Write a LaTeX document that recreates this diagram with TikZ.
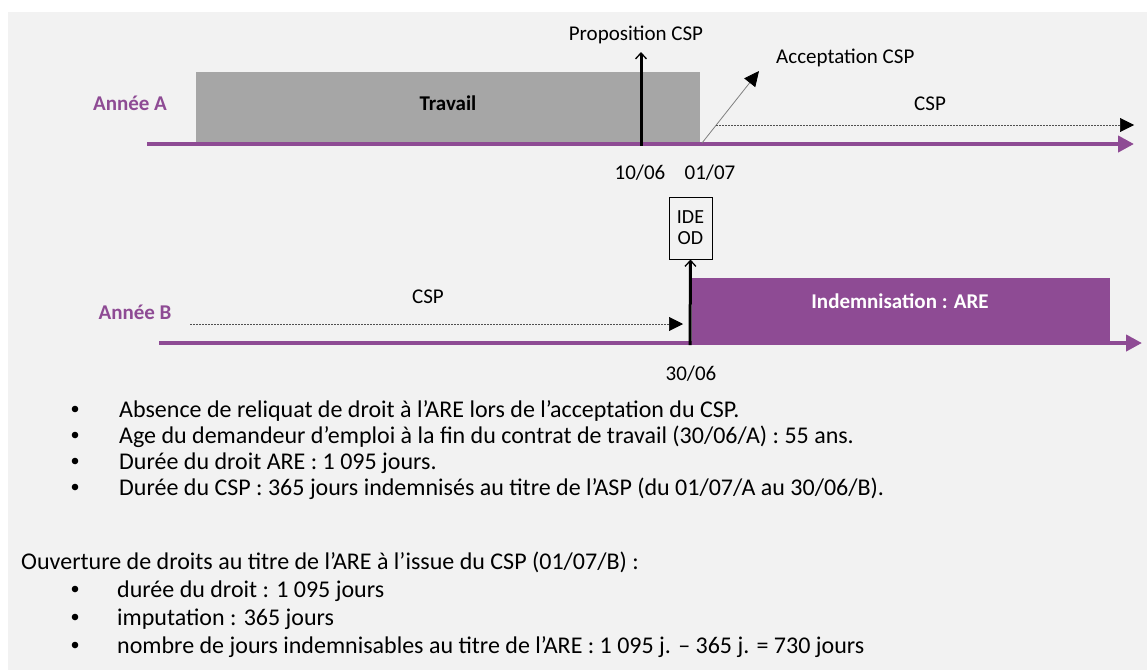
\documentclass[tikz,border=0pt]{standalone}
\usepackage{fontspec}
\setmainfont{Carlito}
\usetikzlibrary{arrows.meta}
\definecolor{bgc}{HTML}{F2F2F2}
\definecolor{purp}{HTML}{8E4B94}
\definecolor{grayb}{HTML}{A6A6A6}
\definecolor{dashc}{HTML}{505050}
\tikzset{
  lbl/.style={inner sep=0pt, font=\fontsize{21}{25}\selectfont, text height=1.5ex, text depth=0.3ex},
  year/.style={lbl, font=\fontsize{21}{25}\selectfont\bfseries, text=purp},
  body/.style={inner sep=0pt, anchor=base west, font=\fontsize{24}{28}\selectfont},
  timeline/.style={draw=purp, line width=4pt, -{Triangle[length=16pt,width=16pt]}},
  dashedarrow/.style={draw=dashc, line width=0.6pt, dash pattern=on 2pt off 1pt, -{Triangle[length=14pt,width=14pt,color=black,fill=black]}},
  thickarrow/.style={draw=black, line width=3pt, -{Straight Barb[length=6pt,width=11pt,line width=1.3pt]}},
  bulletdot/.style={fill=black}
}
\begin{document}
\begin{tikzpicture}[x=1pt,y=-1pt]
\fill[white] (0,0) rectangle (1147,670);
\useasboundingbox (0,0) rectangle (1147,670);
\fill[bgc] (8,12) rectangle (1147,670);

% ---- Year A ----
\node[year] (anneeA) at (130,108) {Année A};
\node[fill=grayb, minimum width=504pt, minimum height=72pt, inner sep=0pt, anchor=north west] (travailbox) at (196,72) {};
\node[lbl, font=\fontsize{21}{25}\selectfont\bfseries] (travail) at (448,108) {Travail};
\coordinate (a0) at (147,144);
\coordinate (a1) at (1134,144);
\draw[timeline] (a0) -- (a1);

\coordinate (p0) at (641,146);
\coordinate (p1) at (641,52);
\draw[thickarrow] (p0) -- (p1);
\node[lbl] (propl) at (636,38) {Proposition CSP};

\coordinate (c0) at (702,143);
\coordinate (c1) at (759,71);
\draw[draw=gray, line width=0.8pt, -{Triangle[length=15pt,width=14pt,color=black,fill=black]}] (c0) -- (c1);
\node[lbl, anchor=west] (accl) at (776,61) {Acceptation CSP};

\coordinate (d0) at (716,125);
\coordinate (d1) at (1134,125);
\draw[dashedarrow] (d0) -- (d1);
\node[lbl] (cspA) at (930,108) {CSP};

\node[lbl] (d1006) at (640,177) {10/06};
\node[lbl] (d0107) at (710,177) {01/07};

% ---- IDE box ----
\node[draw=black, line width=1pt, minimum width=43pt, minimum height=62pt, inner sep=0pt, align=center, font=\fontsize{20}{21}\selectfont] (ide) at (690.5,228) {IDE\\OD};

% ---- Year B ----
\node[year] (anneeB) at (135,317) {Année B};
\node[fill=purp, minimum width=418pt, minimum height=66pt, inner sep=0pt, anchor=north west] (arebox) at (692,278) {};
\node[lbl, font=\fontsize{21}{25}\selectfont\bfseries, text=white] (are) at (900,306) {Indemnisation : ARE};
\coordinate (b0) at (159,343);
\coordinate (b1) at (1142,343);
\draw[timeline] (b0) -- (b1);

\coordinate (e0) at (190,324);
\coordinate (e1) at (683,324);
\draw[dashedarrow] (e0) -- (e1);
\node[lbl] (cspB) at (428,301) {CSP};

\coordinate (f0) at (690,345);
\draw[thickarrow] (f0) -- (ide.south);
\node[lbl] (d3006) at (691,378) {30/06};

% ---- Text ----
\foreach \yy/\txt [count=\i] in {417/{Absence de reliquat de droit à l’ARE lors de l’acceptation du CSP.},
  443/{Age du demandeur d’emploi à la fin du contrat de travail (30/06/A) : 55 ans.},
  469/{Durée du droit ARE : 1 095 jours.},
  495/{Durée du CSP : 365 jours indemnisés au titre de l’ASP (du 01/07/A au 30/06/B).}}{
  \fill[bulletdot] (75,\yy-8) circle (3.3pt);
  \node[body] (ta\i) at (119,\yy) {\txt};
}
\node[body] (ouv) at (21,569) {Ouverture de droits au titre de l’ARE à l’issue du CSP (01/07/B) :};
\foreach \yy/\txt [count=\i] in {597/{durée du droit : 1 095 jours},
  625/{imputation : 365 jours},
  653/{nombre de jours indemnisables au titre de l’ARE : 1 095 j. – 365 j. = 730 jours}}{
  \fill[bulletdot] (75,\yy-8) circle (3.3pt);
  \node[body] (tb\i) at (117,\yy) {\txt};
}
\end{tikzpicture}
\end{document}
